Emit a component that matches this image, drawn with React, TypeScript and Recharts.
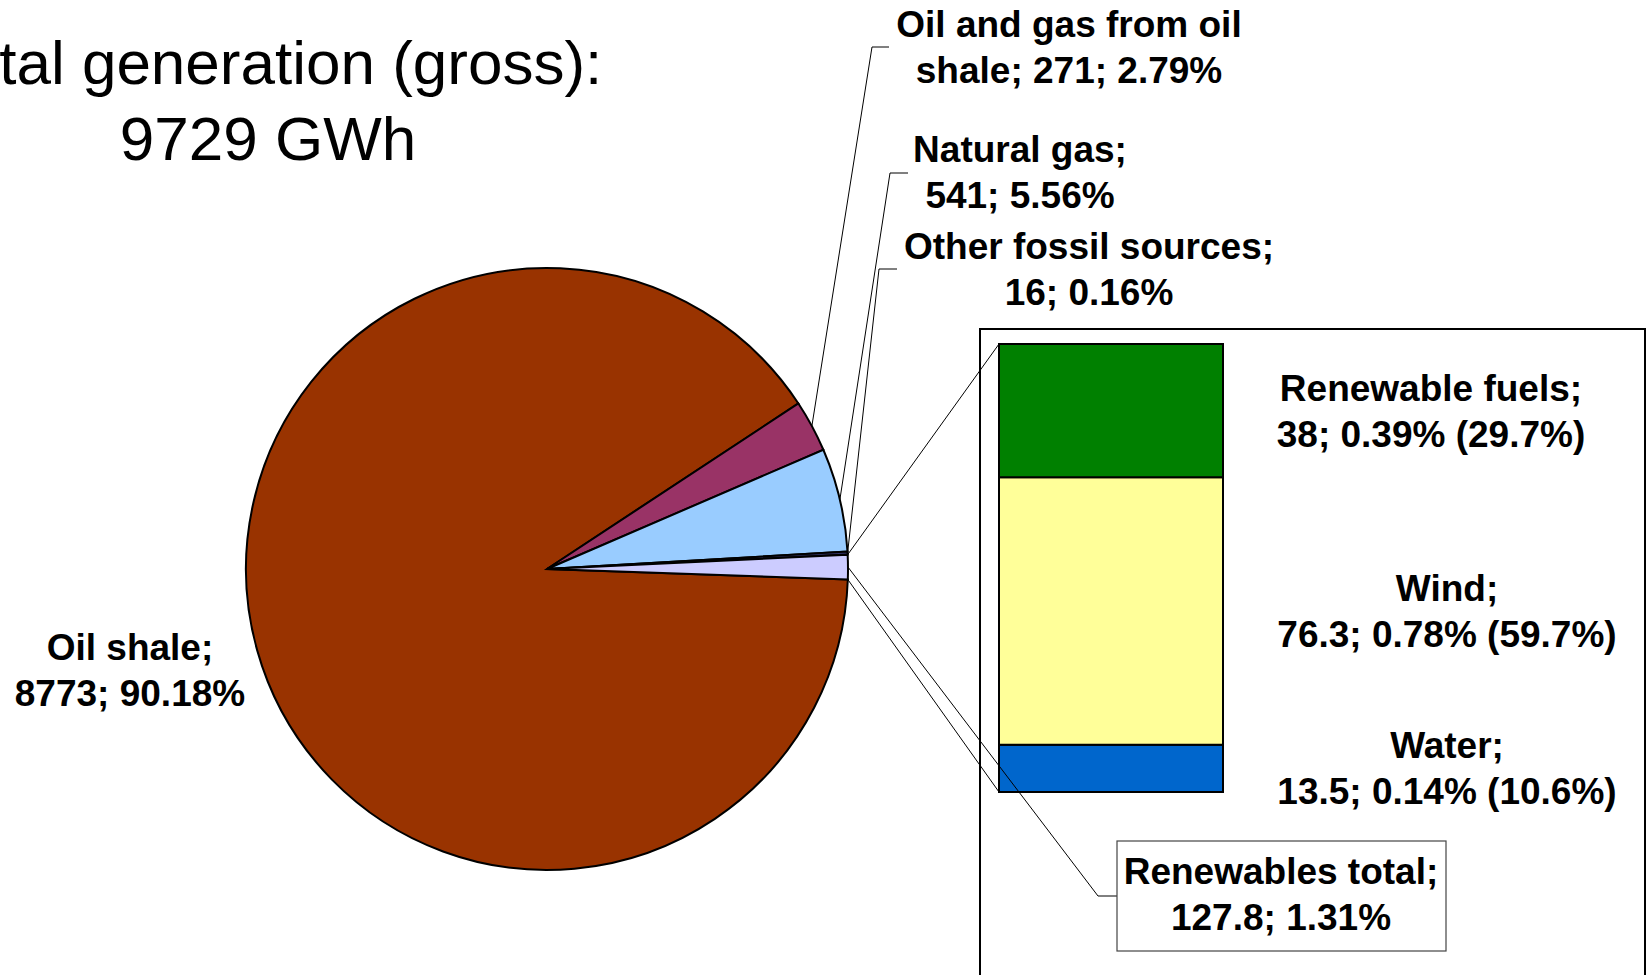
import { Bar, BarChart, Cell, LabelList, Pie, PieChart, XAxis, YAxis } from "recharts";

const W = 1647;
const H = 975;

// gross generation by source, GWh
const sources = [
  "Oil shale",
  "Oil and gas from oil shale",
  "Natural gas",
  "Other fossil sources",
  "Renewables total",
];
const generation = [8773, 271, 541, 16, 127.8];
const sourceColors = ["#993300", "#993366", "#99CCFF", "#333366", "#CCCCFF"];

// the renewables slice broken down, bottom to top of the bar
const renewables = ["Water", "Wind", "Renewable fuels"];
const renewableOutput = [13.5, 76.3, 38];
const renewableColors = ["#0066CC", "#FFFF99", "#008000"];

const total = generation.reduce((a, b) => a + b, 0);
const renewTotal = renewableOutput.reduce((a, b) => a + b, 0);

const pieRows = sources.map((name, i) => ({ name, value: generation[i] }));
const barKeys = renewables.map((_, i) => `s${i}`);
const barRows = [
  Object.fromEntries([["group", "Renewables"], ...barKeys.map((k, i) => [k, renewableOutput[i]])]),
];

// layout
const FONT = '"Liberation Sans", Arial, Helvetica, sans-serif';
const LABEL_SIZE = 37;
const LINE = 46;
const PIE = { cx: 547, cy: 569, r: 301, start: -2 };
const BAR = { left: 999, top: 344, right: 1223, bottom: 792 };

const pieLabelSpots: any[] = [
  { x: 130, y: 660 },
  { x: 1069, y: 37, elbow: [872, 47], tail: 889, wrap: 20 },
  { x: 1020, y: 162, elbow: [890, 173], tail: 908 },
  { x: 1089, y: 259, elbow: [879, 269], tail: 897 },
  { x: 1281, y: 884, elbow: [1098, 896], tail: 1117, box: [1117, 841, 329, 110] },
];
const barLabelShift = [224, 224, 208];

const pct = (v: number, of: number, d: number) => `${((v / of) * 100).toFixed(d)}%`;

function wrapWords(text: string, width: number) {
  const out: string[] = [];
  let line = "";
  for (const w of text.split(" ")) {
    const next = line ? `${line} ${w}` : w;
    if (next.length > width && line) {
      out.push(line);
      line = w;
    } else line = next;
  }
  if (line) out.push(line);
  return out;
}

function PieLabel(props: any) {
  const { cx, cy, midAngle, outerRadius, index } = props;
  const spot = pieLabelSpots[index];
  const value = generation[index];
  const tail = `${value}; ${pct(value, total, 2)}`;
  const lines = spot.wrap
    ? wrapWords(`${sources[index]}; ${tail}`, spot.wrap)
    : [`${sources[index]};`, tail];
  const at = (deg: number) => [
    cx + outerRadius * Math.cos((-deg * Math.PI) / 180),
    cy + outerRadius * Math.sin((-deg * Math.PI) / 180),
  ];
  const [ex, ey] = at(midAngle);
  const span = (props.percent ?? value / total) * 360;
  const [tx, ty] = at(midAngle + span / 2);
  const [bx, by] = at(midAngle - span / 2);
  const isRenew = index === sources.length - 1;

  return (
    <g>
      {isRenew && (
        <>
          <line x1={tx} y1={ty} x2={BAR.left} y2={BAR.top} stroke="#000" strokeWidth={1} />
          <line x1={bx} y1={by} x2={BAR.left} y2={BAR.bottom} stroke="#000" strokeWidth={1} />
        </>
      )}
      {spot.elbow && (
        <polyline
          points={`${ex},${ey} ${spot.elbow[0]},${spot.elbow[1]} ${spot.tail},${spot.elbow[1]}`}
          fill="none"
          stroke="#000"
          strokeWidth={1}
        />
      )}
      {spot.box && (
        <rect
          x={spot.box[0]}
          y={spot.box[1]}
          width={spot.box[2]}
          height={spot.box[3]}
          fill="#fff"
          stroke="#444"
          strokeWidth={1.2}
        />
      )}
      <text textAnchor="middle" fontFamily={FONT} fontSize={LABEL_SIZE} fontWeight="bold" fill="#000">
        {lines.map((l, i) => (
          <tspan key={i} x={spot.x} y={spot.y + i * LINE}>
            {l}
          </tspan>
        ))}
      </text>
    </g>
  );
}

const barLabel = (i: number) => (props: any) => {
  const box = props.viewBox ?? props;
  const x = Number(box.x);
  const y = Number(box.y);
  const w = Number(box.width);
  const h = Number(box.height);
  const mid = y + h / 2;
  const tx = x + w + barLabelShift[i];
  const v = renewableOutput[i];
  return (
    <text textAnchor="middle" fontFamily={FONT} fontSize={LABEL_SIZE} fontWeight="bold" fill="#000">
      <tspan x={tx} y={mid - 10}>{`${renewables[i]};`}</tspan>
      <tspan x={tx} y={mid + 36}>{`${v}; ${pct(v, total, 2)} (${pct(v, renewTotal, 1)})`}</tspan>
    </text>
  );
};

export default function App() {
  return (
    <div
      style={{
        position: "absolute",
        left: 0,
        top: 0,
        width: W,
        height: H,
        overflow: "hidden",
        background: "#fff",
      }}
    >
      <svg width={W} height={H} style={{ position: "absolute", left: 0, top: 0 }}>
        <text textAnchor="middle" fontFamily={FONT} fontSize={62} fill="#000">
          <tspan x={268} y={84}>Total generation (gross):</tspan>
          <tspan x={268} y={160}>{`${Math.round(total)} GWh`}</tspan>
        </text>
        <rect x={980} y={329} width={665} height={700} fill="none" stroke="#000" strokeWidth={2} />
      </svg>

      <div style={{ position: "absolute", left: 0, top: 0 }}>
        <BarChart
          width={W}
          height={H}
          data={barRows}
          margin={{ top: BAR.top, right: W - BAR.right, bottom: H - BAR.bottom, left: BAR.left }}
          barCategoryGap={0}
          barGap={0}
        >
          <XAxis dataKey="group" hide />
          <YAxis hide domain={[0, "dataMax"]} />
          {barKeys.map((k, i) => (
            <Bar
              key={k}
              dataKey={k}
              stackId="renew"
              fill={renewableColors[i]}
              stroke="#000"
              strokeWidth={2}
              isAnimationActive={false}
            >
              <LabelList content={barLabel(i)} />
            </Bar>
          ))}
        </BarChart>
      </div>

      <div style={{ position: "absolute", left: 0, top: 0 }}>
        <PieChart width={W} height={H} margin={{ top: 0, right: 0, bottom: 0, left: 0 }}>
          <Pie
            data={pieRows}
            dataKey="value"
            nameKey="name"
            cx={PIE.cx}
            cy={PIE.cy}
            outerRadius={PIE.r}
            startAngle={PIE.start}
            endAngle={PIE.start - 360}
            stroke="#000"
            strokeWidth={2}
            label={PieLabel}
            labelLine={false}
            isAnimationActive={false}
          >
            {pieRows.map((r, i) => (
              <Cell key={r.name} fill={sourceColors[i]} />
            ))}
          </Pie>
        </PieChart>
      </div>
    </div>
  );
}
